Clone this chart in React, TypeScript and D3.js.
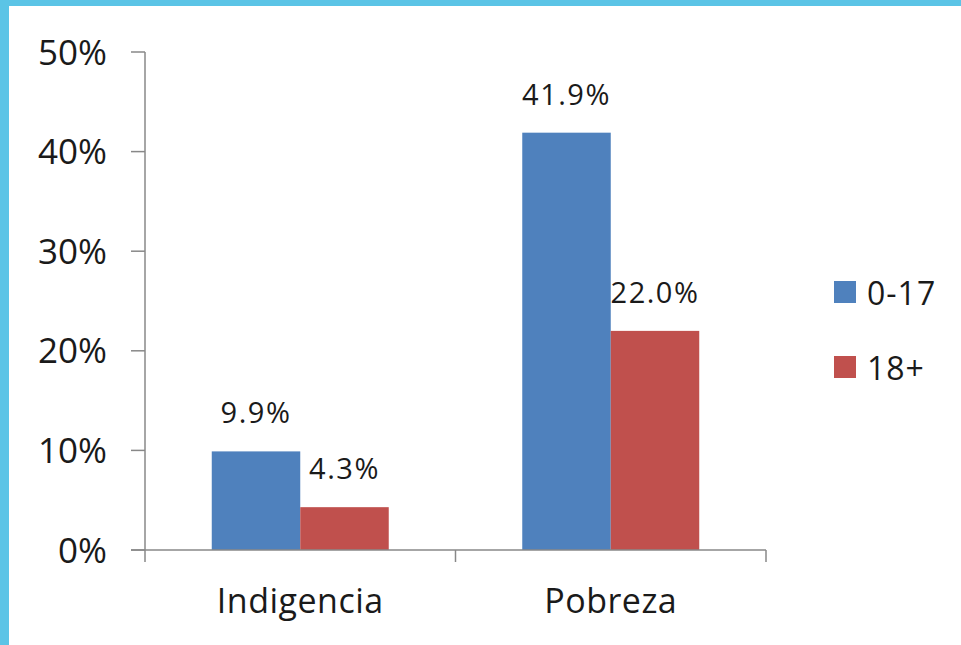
import React from "react";
import * as d3 from "d3";

const categories = ["Indigencia", "Pobreza"];
const seriesNames = ["0-17", "18+"];
const values017 = [9.9, 41.9];
const values18 = [4.3, 22.0];
const yTicks = [0, 10, 20, 30, 40, 50];
const colors = ["#4F81BD", "#C0504D"];

const W = 961;
const H = 645;
const plot = { left: 145, right: 766, top: 52, bottom: 550 };
const FONT = "'Open Sans', 'Noto Sans', sans-serif";
const TXT = "#1a1a1a";

export default function App() {
  const y = d3.scaleLinear().domain([0, 50]).range([plot.bottom, plot.top]);
  const x0 = d3.scaleBand().domain(categories).range([plot.left, plot.right]).paddingInner(0.43).paddingOuter(0.215);
  const x1 = d3.scaleBand().domain(seriesNames).range([0, x0.bandwidth()]);
  const series = [values017, values18];
  const catEdges = [plot.left, (plot.left + plot.right) / 2, plot.right];

  return (
    <svg width={W} height={H} style={{ position: "absolute", left: 0, top: 0, display: "block", background: "#fff" }}>
      <rect x={0} y={0} width={W} height={H} fill="#fff" />
      <rect x={0} y={0} width={W} height={6} fill="#5BC4E6" />
      <rect x={0} y={0} width={9} height={H} fill="#5BC4E6" />
      {/* bars */}
      {categories.map((c, ci) =>
        seriesNames.map((s, si) => {
          const v = series[si][ci];
          const bx = (x0(c) as number) + (x1(s) as number);
          return (
            <g key={c + s}>
              <rect x={bx} y={y(v)} width={x1.bandwidth()} height={plot.bottom - y(v)} fill={colors[si]} />
              <text x={bx + x1.bandwidth() / 2} y={y(v) - 28} textAnchor="middle" fontFamily={FONT} fontSize={29} letterSpacing={1.5} fill={TXT}>
                {v.toFixed(1) + "%"}
              </text>
            </g>
          );
        })
      )}
      {/* y axis */}
      <line x1={plot.left} x2={plot.left} y1={plot.top} y2={plot.bottom} stroke="#888" strokeWidth={1.5} />
      {yTicks.map((t) => (
        <g key={t}>
          <line x1={plot.left - 14} x2={plot.left} y1={y(t)} y2={y(t)} stroke="#888" strokeWidth={1.5} />
          <text x={107} y={y(t)} dy="0.36em" textAnchor="end" fontFamily={FONT} fontSize={35} fill={TXT}>
            {t + "%"}
          </text>
        </g>
      ))}
      {/* x axis */}
      <line x1={plot.left - 14} x2={plot.right} y1={plot.bottom} y2={plot.bottom} stroke="#888" strokeWidth={1.5} />
      {catEdges.map((e, i) => (
        <line key={i} x1={e} x2={e} y1={plot.bottom} y2={plot.bottom + 12} stroke="#888" strokeWidth={1.5} />
      ))}
      {categories.map((c) => (
        <text key={c} x={(x0(c) as number) + x0.bandwidth() / 2} y={613} textAnchor="middle" fontFamily={FONT} fontSize={34} letterSpacing={0.5} fill={TXT}>
          {c}
        </text>
      ))}
      {/* legend */}
      {seriesNames.map((s, i) => (
        <g key={s}>
          <rect x={834} y={281 + i * 75} width={22} height={22} fill={colors[i]} />
          <text x={867} y={305 + i * 75} fontFamily={FONT} fontSize={32} letterSpacing={1} fill={TXT}>
            {s}
          </text>
        </g>
      ))}
    </svg>
  );
}
